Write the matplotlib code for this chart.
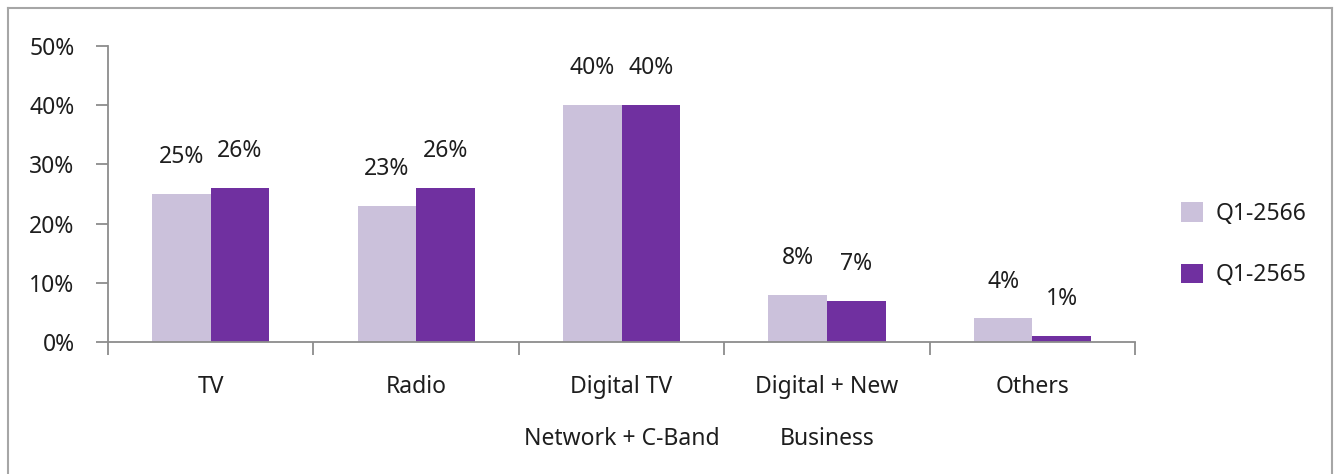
import matplotlib.pyplot as plt
import numpy as np
from matplotlib.lines import Line2D

plt.rcParams['font.family'] = ['Noto Sans', 'DejaVu Sans']

# data
categories = ['TV', 'Radio', 'Digital TV\nNetwork + C-Band', 'Digital + New\nBusiness', 'Others']
q1_2566 = [25, 23, 40, 8, 4]
q1_2565 = [26, 26, 40, 7, 1]
series_names = ['Q1-2566', 'Q1-2565']
yticks = [0, 10, 20, 30, 40, 50]

c_light = '#CBC1DB'
c_dark = '#7030A0'
txt = '#1e1e1e'
grey = '#8c8c8c'
fs = 16.5

fig = plt.figure(figsize=(13.41, 4.74), dpi=100)
ax = fig.add_axes([0.0805, 0.2785, 0.766, 0.6245])

x = np.arange(len(categories))
w = 0.285
b1 = ax.bar(x - w / 2, q1_2566, w, color=c_light, label=series_names[0])
b2 = ax.bar(x + w / 2, q1_2565, w, color=c_dark, label=series_names[1])

for bars, vals in [(b1, q1_2566), (b2, q1_2565)]:
    for r, v in zip(bars, vals):
        ax.annotate(f'{v}%', (r.get_x() + r.get_width() / 2, v),
                    xytext=(0, 26.5), textcoords='offset points',
                    ha='center', va='center', fontsize=fs, color=txt)

ax.set_xlim(-0.5, len(categories) - 0.5)
ax.set_ylim(0, 50)
ax.set_yticks(yticks)
ax.set_yticklabels([f'{t}%' for t in yticks])

# category labels between boundary ticks
ax.set_xticks(np.arange(len(categories) + 1) - 0.5)
ax.set_xticklabels([])
ax.set_xticks(x, minor=True)
ax.set_xticklabels(categories, minor=True, linespacing=2.55, va='top')
ax.tick_params(axis='x', which='minor', length=0, pad=24, labelsize=fs, labelcolor=txt)
ax.tick_params(axis='x', which='major', length=9, width=1.3, color=grey)
ax.tick_params(axis='y', length=9, width=1.3, color=grey, pad=15, labelsize=fs, labelcolor=txt)

for s in ['top', 'right']:
    ax.spines[s].set_visible(False)
for s in ['left', 'bottom']:
    ax.spines[s].set_color(grey)
    ax.spines[s].set_linewidth(1.3)

leg = fig.legend(loc='center left', bbox_to_anchor=(0.8655, 0.484), frameon=False,
                 fontsize=fs, handlelength=0.95, handleheight=0.95, handletextpad=0.55,
                 labelspacing=1.65, labelcolor=txt)

# outer border
bc = '#a6a6a6'
xl, xr, yt = 8 / 1341, 1332 / 1341, 1 - 8 / 474
fig.add_artist(Line2D([xl, xl], [0, yt], transform=fig.transFigure, color=bc, lw=1.5))
fig.add_artist(Line2D([xl, xr], [yt, yt], transform=fig.transFigure, color=bc, lw=1.5))
fig.add_artist(Line2D([xr, xr], [0, yt], transform=fig.transFigure, color=bc, lw=1.5))

fig.savefig('out.png', dpi=100)
